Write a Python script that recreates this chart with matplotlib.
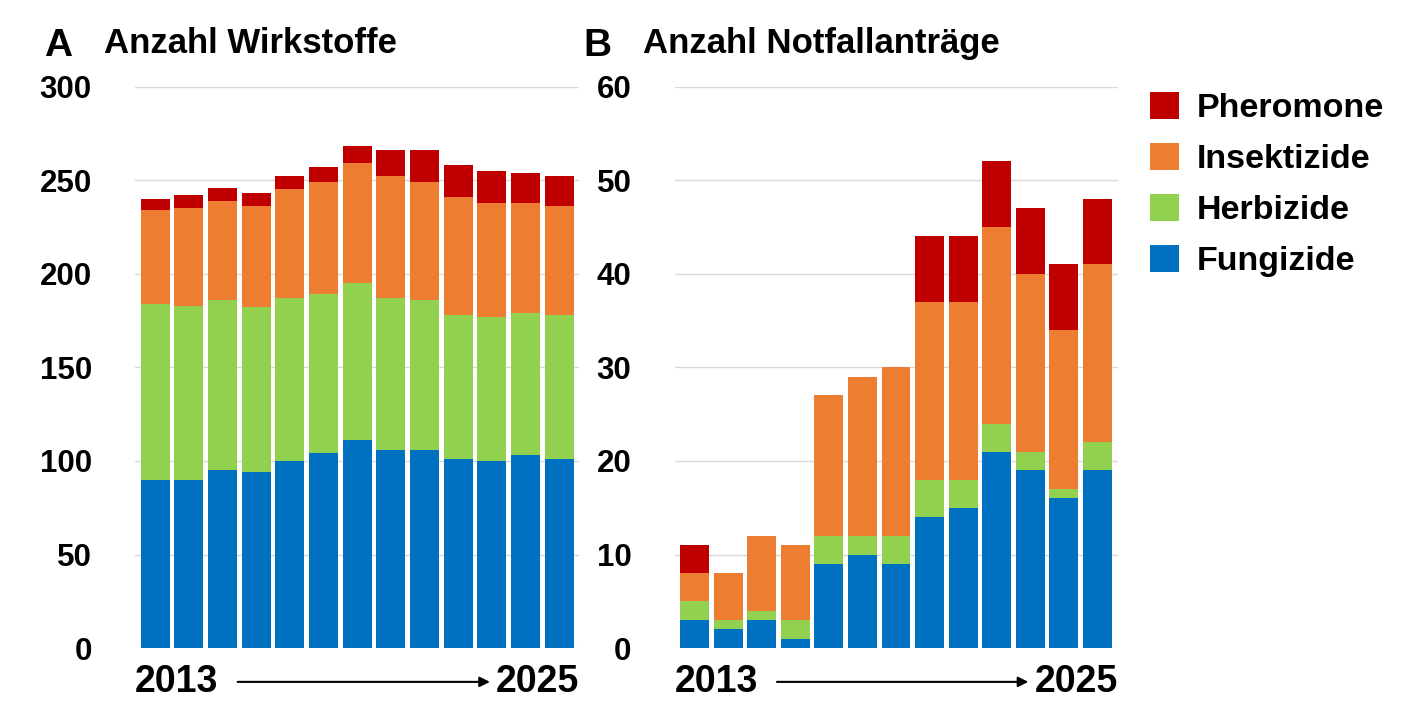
import matplotlib.pyplot as plt
import numpy as np

plt.rcParams['font.family'] = ['Liberation Sans', 'DejaVu Sans']
plt.rcParams['font.weight'] = 'bold'

years = list(range(2013, 2026))
series = ["Fungizide", "Herbizide", "Insektizide", "Pheromone"]
colors = ["#0070C0", "#92D050", "#ED7D31", "#C00000"]

# panel A, cumulative tops
a_fung = [90, 90, 95, 94, 100, 104, 111, 106, 106, 101, 100, 103, 101]
a_herb_top = [184, 183, 186, 182, 187, 189, 195, 187, 186, 178, 177, 179, 178]
a_ins_top = [234, 235, 239, 236, 245, 249, 259, 252, 249, 241, 238, 238, 236]
a_total = [240, 242, 246, 243, 252, 257, 268, 266, 266, 258, 255, 254, 252]

# panel B
b_fung = [3, 2, 3, 1, 9, 10, 9, 14, 15, 21, 19, 16, 19]
b_herb_top = [5, 3, 4, 3, 12, 12, 12, 18, 18, 24, 21, 17, 22]
b_ins_top = [8, 8, 12, 11, 27, 29, 30, 37, 37, 45, 40, 34, 41]
b_total = [11, 8, 12, 11, 27, 29, 30, 44, 44, 52, 47, 41, 48]


def draw(ax, tops, ymax, step, letter, title):
    x = np.arange(len(years))
    bottom = np.zeros(len(years))
    for name, col, top in zip(series, colors, tops):
        top = np.array(top, dtype=float)
        ax.bar(x, top - bottom, bottom=bottom, color=col, width=0.86, label=name, zorder=2)
        bottom = top
    ax.set_ylim(0, ymax)
    ax.set_xlim(-0.6, len(years) - 0.4)
    ax.set_yticks(np.arange(0, ymax + 1, step))
    ax.tick_params(axis='y', labelsize=22.5, length=0, pad=31)
    ax.set_xticks([])
    ax.grid(axis='y', color='#d9d9d9', lw=1, zorder=0)
    for s in ax.spines.values():
        s.set_visible(False)
    ax.text(-0.205, 1.055, letter, transform=ax.transAxes, fontsize=28, fontweight='bold')
    ax.text(-0.07, 1.06, title, transform=ax.transAxes, fontsize=25, fontweight='bold')
    ax.text(0.0, -0.06, str(years[0]), transform=ax.transAxes, fontsize=27,
            fontweight='bold', va='center', ha='left')
    ax.text(1.0, -0.06, str(years[-1]), transform=ax.transAxes, fontsize=27,
            fontweight='bold', va='center', ha='right')
    ax.annotate('', xy=(0.805, -0.06), xytext=(0.225, -0.06), xycoords='axes fraction',
                arrowprops=dict(arrowstyle='-|>', color='black', lw=1.5, mutation_scale=15))


fig = plt.figure(figsize=(14.2, 7.21), dpi=100)
axA = fig.add_axes([0.095, 0.101, 0.313, 0.779])
axB = fig.add_axes([0.475, 0.101, 0.312, 0.779])
draw(axA, [a_fung, a_herb_top, a_ins_top, a_total], 300, 50, "A", "Anzahl Wirkstoffe")
draw(axB, [b_fung, b_herb_top, b_ins_top, b_total], 60, 10, "B", "Anzahl Notfallanträge")

h, l = axB.get_legend_handles_labels()
fig.legend(h[::-1], l[::-1], loc='upper left', bbox_to_anchor=(0.788, 0.915),
           frameon=False, fontsize=24.5, handlelength=0.85, handleheight=0.85,
           labelspacing=0.55, handletextpad=0.55)

fig.savefig("out.png", dpi=100)
